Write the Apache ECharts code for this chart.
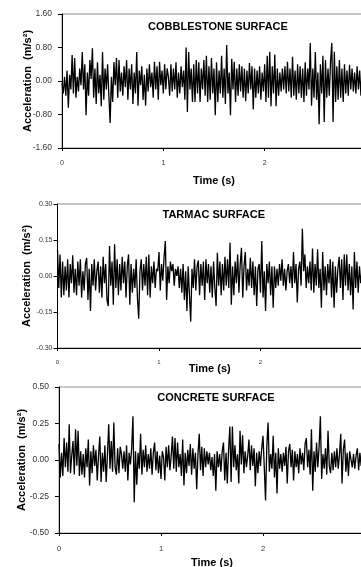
<!DOCTYPE html>
<html>
<head>
<meta charset="utf-8">
<script src="https://cdn.jsdelivr.net/npm/echarts@6/dist/echarts.min.js"></script>
<style>
  html, body { margin: 0; padding: 0; background: #fff; }
  #chart { width: 361px; height: 567px; }
</style>
</head>
<body>
<div id="chart"></div>
<script>
// sample step of the recordings (s)
const dt = 0.0125;

const panelTitles = ['COBBLESTONE SURFACE', 'TARMAC SURFACE', 'CONCRETE SURFACE'];
const xTicks = [0, 1, 2, 3];
const yTicks1 = [-1.6, -0.8, 0, 0.8, 1.6];
const yTicks2 = [-0.3, -0.15, 0, 0.15, 0.3];
const yTicks3 = [-0.5, -0.25, 0, 0.25, 0.5];

// acceleration (m/s^2)
const cobblestone = [
  -0.05, -0.30, 0.10, -0.35, 0.25, -0.64, 0.15, -0.20,
  0.62, -0.30, 0.55, -0.40, 0.10, -0.25, 0.30, -0.10,
  0.69, -0.20, 0.40, -0.82, 0.20, -0.35, 0.50, 0.05,
  0.78, -0.40, 0.30, -0.55, 0.45, -0.30, 0.15, -0.60,
  0.69, -0.45, 0.30, -0.20, 0.40, -0.35, -1.00, 0.10,
  -0.50, 0.45, -0.10, 0.55, -0.40, 0.50, -0.25, 0.20,
  -0.35, 0.35, -0.15, 0.50, -0.45, 0.30, -0.20, 0.40,
  -0.55, 0.20, -0.30, 0.69, -0.59, 0.25, -0.10, 0.35,
  -0.45, 0.15, -0.59, 0.30, -0.25, 0.40, -0.15, 0.20,
  -0.40, 0.46, -0.20, 0.35, -0.45, 0.46, -0.10, 0.25,
  -0.30, 0.40, -0.20, 0.30, 0.10, -0.35, 0.40, -0.25,
  0.30, -0.20, 0.45, -0.40, 0.20, -0.30, 0.35, -0.15,
  0.25, -0.45, 0.80, -0.74, 0.69, -0.20, 0.30, -0.50,
  0.40, -0.50, 0.50, -0.30, 0.45, -0.50, 0.30, -0.20,
  0.50, -0.35, 0.60, -0.50, 0.35, -0.45, 0.55, -0.30,
  0.30, -0.82, 0.45, -0.50, 0.25, -0.30, 0.60, -0.40,
  0.30, -0.55, 0.86, -0.30, 0.20, -0.82, 0.53, -0.20,
  0.46, -0.50, 0.30, -0.35, 0.40, -0.25, 0.35, -0.40,
  0.30, -0.48, 0.25, -0.30, 0.43, -0.20, 0.35, -0.68,
  0.30, -0.40, 0.25, -0.30, 0.35, -0.45, 0.20, -0.25,
  0.40, -0.50, 0.60, -0.40, 0.70, -0.60, 0.35, -0.30,
  0.63, -0.60, 0.30, -0.35, 0.20, -0.25, 0.30, -0.20,
  0.35, -0.30, 0.46, -0.25, 0.30, -0.40, 0.58, -0.35,
  0.25, -0.45, 0.40, -0.30, 0.35, -0.40, 0.30, -0.50,
  0.45, -0.35, 0.30, -0.20, 0.91, -0.59, 0.30, -0.40,
  0.69, -0.45, 0.20, -1.03, 0.40, -0.30, 0.60, -0.98,
  0.50, -0.40, 0.30, -0.35, 0.45, 0.91, -0.98, 0.70,
  -0.50, 0.35, -0.45, 0.50, -0.40, 0.30, -0.50, 0.40,
  -0.30, 0.25, -0.35, 0.39, -0.20, 0.30, -0.25, 0.20,
  -0.30, 0.35, -0.20, 0.25, -0.35, 0.30, -0.15, 0.20, -0.10
];

const tarmac = [
  0.11, -0.05, 0.09, -0.09, 0.06, -0.08, 0.04, -0.06,
  0.07, -0.09, 0.05, -0.03, 0.086, -0.07, 0.03, -0.08,
  0.06, -0.04, 0.07, -0.09, 0.02, -0.06, 0.05, 0.075,
  -0.10, 0.03, -0.146, 0.05, -0.04, 0.07, -0.06, 0.02,
  0.06, -0.07, 0.04, -0.09, 0.08, -0.03, 0.05, -0.10,
  -0.125, 0.125, -0.04, 0.06, -0.12, 0.132, -0.05, 0.07,
  -0.08, 0.05, -0.06, 0.08, -0.03, 0.06, -0.09, 0.04,
  0.09, -0.12, 0.05, -0.07, 0.03, -0.05, 0.07, -0.09,
  -0.178, 0.02, 0.07, -0.06, 0.05, -0.04, 0.08, -0.08,
  0.09, -0.09, 0.04, -0.03, 0.06, -0.05, 0.03, 0.02,
  0.10, -0.06, 0.05, -0.02, 0.08, 0.146, -0.10, 0.04,
  -0.03, 0.06, 0.02, 0.05, -0.04, 0.03, 0.00, 0.04,
  -0.05, 0.03, -0.07, 0.05, -0.10, 0.02, -0.146, 0.04,
  -0.08, -0.19, 0.03, -0.05, 0.07, -0.06, 0.04, 0.065,
  -0.08, 0.05, -0.04, 0.06, -0.10, 0.07, -0.03, 0.05,
  -0.07, 0.04, -0.09, 0.06, -0.05, -0.125, 0.097, -0.04,
  0.06, -0.08, 0.05, -0.06, 0.08, -0.04, 0.07, -0.05,
  0.139, -0.12, 0.04, -0.08, 0.06, -0.03, 0.09, -0.07,
  0.05, 0.118, -0.09, 0.04, 0.10, -0.06, 0.03, -0.04,
  0.076, -0.05, 0.06, -0.08, 0.04, -0.125, 0.03, 0.05,
  -0.07, 0.146, -0.09, 0.02, -0.146, 0.05, -0.03, 0.06,
  -0.08, 0.04, -0.132, 0.04, -0.05, 0.03, -0.04, 0.05,
  -0.02, 0.07, -0.04, 0.03, -0.06, 0.02, 0.05, -0.03,
  0.04, -0.05, 0.10, -0.03, 0.05, -0.11, 0.03, 0.06,
  -0.04, 0.197, 0.02, 0.09, -0.05, 0.04, -0.03, 0.06,
  -0.06, 0.114, -0.07, 0.05, -0.04, 0.111, -0.05, 0.03,
  -0.132, 0.10, -0.06, 0.04, -0.08, 0.05, -0.03, 0.07,
  -0.09, 0.06, -0.132, 0.04, -0.07, 0.03, 0.08, -0.05,
  0.07, -0.10, 0.09, -0.04, 0.09, -0.06, 0.05, -0.08,
  0.04, -0.14, 0.10, -0.05, 0.06, -0.07, 0.04, -0.03, 0.02
];

const concrete = [
  0.11, -0.12, 0.05, -0.11, 0.15, -0.05, 0.12, -0.08,
  0.245, -0.09, 0.03, 0.13, -0.10, 0.21, -0.04, 0.20,
  -0.11, 0.06, -0.10, 0.04, -0.12, 0.08, -0.05, 0.14,
  -0.175, 0.06, -0.09, 0.10, -0.04, 0.07, -0.14, 0.03,
  0.16, -0.15, 0.05, -0.08, 0.10, -0.15, 0.04, 0.245,
  -0.06, 0.13, -0.08, 0.256, -0.05, -0.10, 0.08, -0.09,
  0.09, 0.04, -0.06, 0.06, -0.08, 0.10, -0.14, 0.05,
  -0.03, 0.08, 0.30, -0.29, 0.06, -0.17, 0.05, -0.06,
  0.18, -0.10, 0.07, -0.05, 0.10, -0.08, 0.04, -0.06,
  0.08, -0.10, 0.05, 0.12, -0.07, 0.06, -0.09, 0.03,
  -0.13, 0.06, 0.02, -0.14, 0.09, -0.05, 0.10, -0.07,
  0.03, 0.16, -0.06, 0.15, -0.08, 0.12, -0.05, 0.04,
  -0.11, 0.14, -0.175, 0.05, -0.09, 0.07, -0.04, 0.11,
  -0.10, 0.08, -0.06, 0.05, -0.20, 0.04, 0.18, -0.07,
  0.09, -0.11, 0.08, -0.05, 0.06, -0.03, 0.05, -0.07,
  0.02, -0.11, 0.04, -0.21, 0.06, -0.05, 0.04, -0.08,
  0.06, 0.12, -0.14, 0.05, -0.16, 0.07, 0.23, -0.15,
  0.23, -0.05, 0.10, -0.07, 0.04, -0.16, 0.20, -0.03,
  0.17, -0.09, 0.06, -0.05, 0.03, 0.14, -0.07, 0.10,
  -0.04, 0.08, -0.18, 0.05, -0.09, 0.06, -0.04, 0.08,
  0.166, -0.05, -0.277, 0.10, 0.256, -0.08, 0.04, -0.06,
  0.166, -0.12, 0.05, -0.23, 0.08, -0.06, 0.04, -0.08,
  0.05, -0.04, 0.09, -0.16, 0.06, 0.11, -0.05, 0.07,
  -0.14, 0.06, -0.05, 0.04, -0.09, 0.08, -0.03, 0.05,
  -0.07, 0.11, 0.15, -0.05, 0.07, -0.10, 0.21, -0.21,
  0.06, -0.08, 0.12, -0.05, 0.09, 0.30, -0.13, 0.04,
  -0.06, 0.08, -0.10, 0.20, -0.04, -0.09, 0.05, -0.07,
  0.06, -0.05, 0.08, -0.06, 0.04, 0.18, -0.16, 0.07,
  0.14, -0.08, 0.05, -0.11, 0.06, 0.06, -0.05, 0.04,
  -0.06, 0.03, 0.08, -0.07, 0.05, -0.04, 0.06, -0.03, 0.02
];

const font = 'Arial, "Liberation Sans", sans-serif';

const toPairs = (arr) => arr.map((v, i) => [+(i * dt).toFixed(4), v]);

// per-panel layout: grid box, font sizes, gaps
const panels = [
  { data: cobblestone, ticks: yTicks1, left: 62, top: 14, height: 134, width: 304,
    yFont: 8.5, xFont: 7, yMargin: 10, xMargin: 12, yGap: 29, xGap: 27, titleY: 27 },
  { data: tarmac, ticks: yTicks2, left: 57.5, top: 204, height: 144, width: 304.5,
    yFont: 7, xFont: 6, yMargin: 5, xMargin: 11, yGap: 25, xGap: 15, titleY: 215 },
  { data: concrete, ticks: yTicks3, left: 59, top: 387, height: 146, width: 306,
    yFont: 8.5, xFont: 7.5, yMargin: 10, xMargin: 12, yGap: 32, xGap: 24, titleY: 398 },
];

const config = {
  animation: false,
  backgroundColor: '#fff',
  grid: [],
  xAxis: [],
  yAxis: [],
  series: [],
  graphic: [],
};

panels.forEach((p, k) => {
  const yt = p.ticks;
  config.grid.push({
    left: p.left, top: p.top, width: p.width, height: p.height,
    outerBoundsMode: 'none', containLabel: false,
    show: true, borderColor: '#8c8c8c', borderWidth: 1, backgroundColor: 'transparent',
  });
  config.xAxis.push({
    type: 'value', gridIndex: k,
    min: xTicks[0], max: xTicks[xTicks.length - 1], interval: 1,
    name: 'Time (s)', nameLocation: 'middle', nameGap: p.xGap, nameMoveOverlap: false,
    nameTextStyle: { fontFamily: font, fontWeight: 'bold', fontSize: 11, color: '#000' },
    axisLine: { show: true, onZero: false, lineStyle: { color: '#000', width: 1 } },
    axisTick: { show: true, length: 3, lineStyle: { color: '#000' } },
    axisLabel: {
      fontFamily: font, fontSize: p.xFont, color: '#333', margin: p.xMargin,
      showMaxLabel: false,
    },
    splitLine: { show: false },
  });
  config.yAxis.push({
    type: 'value', gridIndex: k,
    min: yt[0], max: yt[yt.length - 1], interval: yt[1] - yt[0],
    name: 'Acceleration  (m/s²)', nameLocation: 'middle', nameRotate: 90,
    nameGap: p.yGap, nameMoveOverlap: false,
    nameTextStyle: { fontFamily: font, fontWeight: 'bold', fontSize: 11, color: '#000' },
    axisLine: { show: true, lineStyle: { color: '#000', width: 1 } },
    axisTick: { show: true, length: 4, lineStyle: { color: '#000' } },
    axisLabel: {
      fontFamily: font, fontSize: p.yFont, color: '#333', margin: p.yMargin,
      formatter: (v) => v.toFixed(2),
    },
    splitLine: { show: false },
  });
  config.series.push({
    type: 'line', xAxisIndex: k, yAxisIndex: k,
    data: toPairs(p.data),
    showSymbol: false, symbol: 'none',
    lineStyle: { color: '#000', width: 1.3 },
  });
  // surface name, centred over the plot (plot runs past the right edge)
  config.graphic.push({
    type: 'text',
    x: p.left + p.width / 2 + 4,
    y: p.titleY,
    style: {
      text: panelTitles[k], font: 'bold 11px ' + font, fill: '#000',
      textAlign: 'center', textVerticalAlign: 'middle',
    },
  });
});

const chart = echarts.init(document.getElementById('chart'), null, { renderer: 'canvas' });
chart.setOption(config);
</script>
</body>
</html>
